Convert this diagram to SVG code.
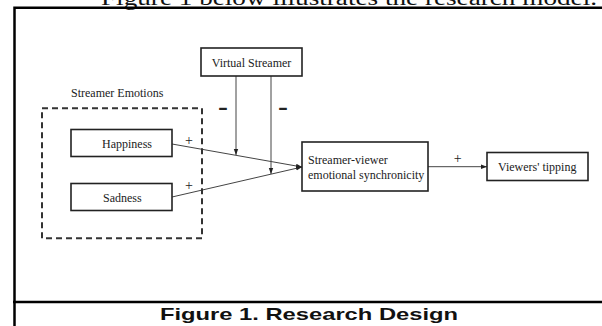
<svg xmlns="http://www.w3.org/2000/svg" width="602" height="326" viewBox="0 0 602 326">
<style>
.t{font-family:"Liberation Serif","Times New Roman",serif;font-size:12px;fill:#222}
.box{fill:#fff;stroke:#222;stroke-width:1.6}
.ln{stroke:#444;stroke-width:1;fill:none}
.sign{font-family:"Liberation Serif","Times New Roman",serif;font-size:14px;fill:#222}
.minus{font-family:"Liberation Sans",Arial,sans-serif;font-size:18px;font-weight:bold;fill:#222}
.frame{stroke:#000;stroke-width:2.5;fill:none}
</style>
<defs>
<marker id="ah" markerUnits="userSpaceOnUse" markerWidth="6" markerHeight="6" viewBox="0 0 6 6" refX="6" refY="3" orient="auto">
<path d="M0,0.8 L6,3 L0,5.2 Z" fill="#222"/>
</marker>
</defs>
<rect width="602" height="326" fill="#fff"/>
<g id="page">
<text x="101" y="4.5" font-family="'Liberation Serif','Times New Roman',serif" font-size="20" fill="#111" textLength="496" lengthAdjust="spacingAndGlyphs">Figure 1 below illustrates the research model.</text>
<path class="frame" d="M14.5,326 V7.7 H602"/>
<path class="frame" d="M13,302 H602"/>
<text x="160" y="319.5" font-family="'Liberation Sans',Arial,sans-serif" font-size="17" font-weight="bold" fill="#111" textLength="298" lengthAdjust="spacingAndGlyphs">Figure 1. Research Design</text>
</g>
<g id="connectors">
<line class="ln" x1="172" y1="144" x2="302" y2="167" marker-end="url(#ah)"/>
<line class="ln" x1="172" y1="197" x2="302" y2="167" marker-end="url(#ah)"/>
<line class="ln" x1="236" y1="76" x2="236" y2="155" marker-end="url(#ah)"/>
<line class="ln" x1="271" y1="76" x2="271" y2="174" marker-end="url(#ah)"/>
<line class="ln" x1="428" y1="166.7" x2="487" y2="166.7" marker-end="url(#ah)"/>
<text class="sign" x="189" y="145" text-anchor="middle">+</text>
<text class="sign" x="189" y="190" text-anchor="middle">+</text>
<text class="sign" x="457.7" y="162.5" text-anchor="middle">+</text>
<text class="minus" x="218" y="113.7" textLength="10" lengthAdjust="spacingAndGlyphs">-</text>
<text class="minus" x="278" y="113.7" textLength="10" lengthAdjust="spacingAndGlyphs">-</text>
</g>
<g id="streamer-emotions">
<text class="t" x="71" y="97">Streamer Emotions</text>
<rect x="42" y="108.3" width="160" height="130" fill="none" stroke="#333" stroke-width="2" stroke-dasharray="6 4"/>
</g>
<g id="virtual-streamer">
<rect class="box" x="201" y="48" width="101" height="28"/>
<text class="t" x="251.5" y="66.5" text-anchor="middle">Virtual Streamer</text>
</g>
<g id="happiness">
<rect class="box" x="71" y="129.5" width="101" height="27"/>
<text class="t" x="102" y="148">Happiness</text>
</g>
<g id="sadness">
<rect class="box" x="71" y="183.5" width="101" height="27"/>
<text class="t" x="103" y="201.5">Sadness</text>
</g>
<g id="synchronicity">
<rect class="box" x="302" y="142" width="126" height="49"/>
<text class="t" x="308" y="164">Streamer-viewer</text>
<text class="t" x="308" y="179">emotional synchronicity</text>
</g>
<g id="tipping">
<rect class="box" x="487" y="152.5" width="101" height="28"/>
<text class="t" x="498" y="171">Viewers' tipping</text>
</g>
</svg>
